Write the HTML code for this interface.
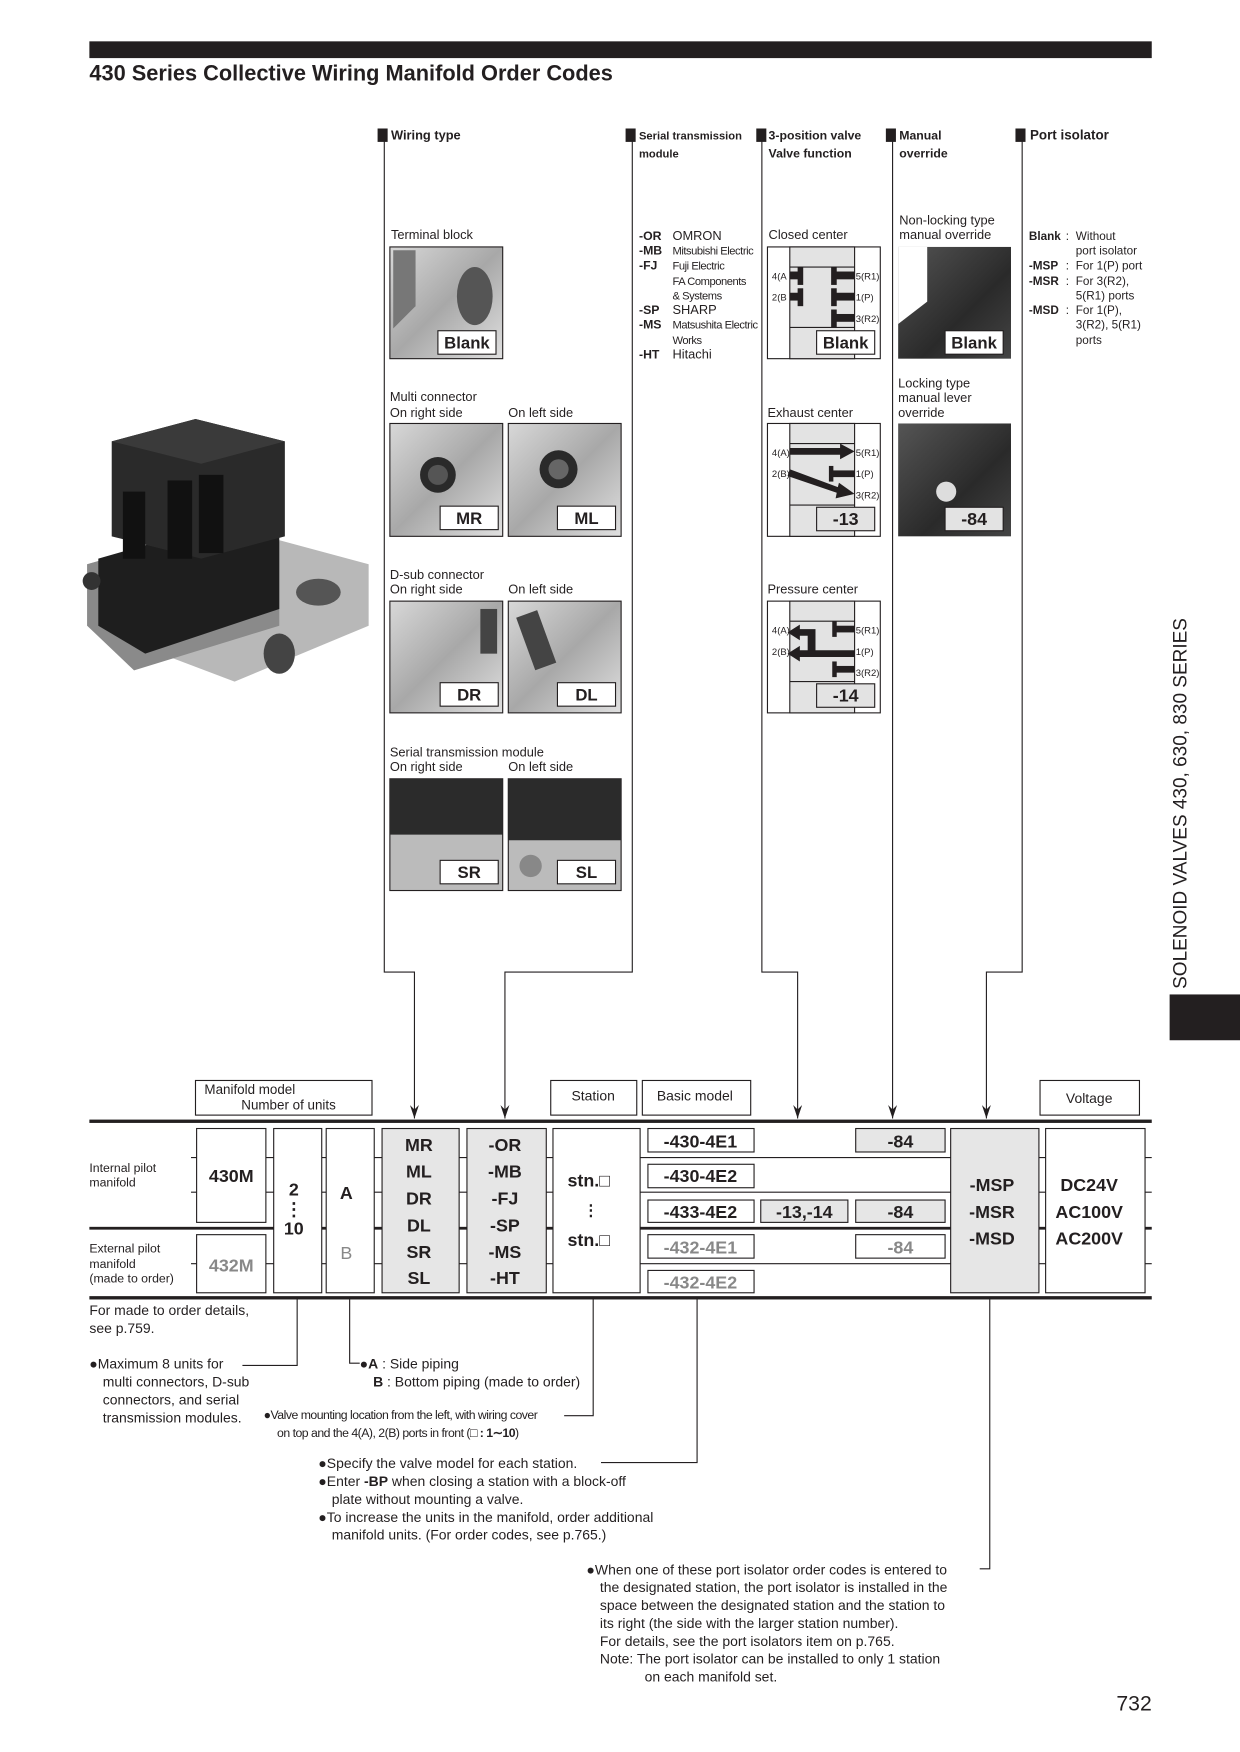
<!DOCTYPE html>
<html><head><meta charset="utf-8"><style>
html,body{margin:0;padding:0;background:#fff;}
svg{display:block;}
text{font-family:"Liberation Sans",sans-serif;fill:#231f20;}
.s{font-size:11.5px;}
.xs{font-size:10px;}
.h{font-size:11.5px;font-weight:bold;}
.c{font-size:16px;font-weight:bold;}
.g{fill:#888;}
.lbl{font-size:15px;font-weight:bold;}
</style></head><body>
<svg width="1240" height="1752" viewBox="0 0 1110 1568" preserveAspectRatio="none" xmlns="http://www.w3.org/2000/svg">
<defs>
<linearGradient id="lg" x1="0" y1="0" x2="1" y2="1"><stop offset="0" stop-color="#d8d8d8"/><stop offset="0.5" stop-color="#a8a8a8"/><stop offset="1" stop-color="#e0e0e0"/></linearGradient>
<linearGradient id="dk" x1="0" y1="0" x2="1" y2="1"><stop offset="0" stop-color="#555"/><stop offset="0.6" stop-color="#2a2a2a"/><stop offset="1" stop-color="#444"/></linearGradient>
<marker id="ar" markerWidth="12" markerHeight="8" refX="12" refY="4" orient="auto" markerUnits="userSpaceOnUse"><path d="M0,0 L12,4 L0,8 L4,4 Z" fill="#231f20"/></marker>
</defs>
<!-- header -->
<rect x="80" y="37" width="951" height="15" fill="#231f20"/>
<text x="80" y="72" style="font-size:19.5px;font-weight:bold">430 Series Collective Wiring Manifold Order Codes</text>

<!-- section headers -->
<g>
<rect x="338" y="115" width="9" height="12" fill="#231f20"/><text x="350" y="125" class="h">Wiring type</text>
<rect x="560" y="115" width="9" height="12" fill="#231f20"/><text x="572" y="125" class="xs" style="font-weight:bold">Serial transmission</text><text x="572" y="141" class="xs" style="font-weight:bold">module</text>
<rect x="677" y="115" width="9" height="12" fill="#231f20"/><text x="688" y="125" class="xs" style="font-weight:bold;font-size:11px">3-position valve</text><text x="688" y="141" class="xs" style="font-weight:bold;font-size:11px">Valve function</text>
<rect x="793" y="115" width="9" height="12" fill="#231f20"/><text x="805" y="125" class="xs" style="font-weight:bold;font-size:11px">Manual</text><text x="805" y="141" class="xs" style="font-weight:bold;font-size:11px">override</text>
<rect x="909" y="115" width="9" height="12" fill="#231f20"/><text x="922" y="125" class="h" style="font-size:12px">Port isolator</text>
</g>
<!-- connector lines -->
<g fill="none" stroke="#231f20" stroke-width="1">
<path d="M344,126 V870 H371 V1001" marker-end="url(#ar)"/>
<path d="M566,126 V870 H452 V1001" marker-end="url(#ar)"/>
<path d="M682,126 V870 H714 V1001" marker-end="url(#ar)"/>
<path d="M799,126 V1001" marker-end="url(#ar)"/>
<path d="M915,126 V870 H883 V1001" marker-end="url(#ar)"/>
</g>

<!-- wiring type labels -->
<text x="350" y="214" class="s">Terminal block</text>
<text x="349" y="359" class="s">Multi connector</text>
<text x="349" y="373" class="s">On right side</text><text x="455" y="373" class="s">On left side</text>
<text x="349" y="518" class="s">D-sub connector</text>
<text x="349" y="531" class="s">On right side</text><text x="455" y="531" class="s">On left side</text>
<text x="349" y="677" class="s">Serial transmission module</text>
<text x="349" y="690" class="s">On right side</text><text x="455" y="690" class="s">On left side</text>

<!-- photos -->
<g stroke="#231f20" stroke-width="1">
<rect x="349" y="221" width="101" height="100" fill="url(#lg)"/>
<rect x="349" y="379" width="101" height="101" fill="url(#lg)"/>
<rect x="455" y="379" width="101" height="101" fill="url(#lg)"/>
<rect x="349" y="538" width="101" height="100" fill="url(#lg)"/>
<rect x="455" y="538" width="101" height="100" fill="url(#lg)"/>
<rect x="349" y="697" width="101" height="100" fill="#bbb"/>
<rect x="455" y="697" width="101" height="100" fill="#bbb"/>
</g>
<g fill="#333">
<path d="M352,224 h20 v50 l-20,20z" fill="#777"/>
<ellipse cx="425" cy="265" rx="16" ry="26" fill="#555"/>
<circle cx="392" cy="425" r="16" fill="#2a2a2a"/><circle cx="392" cy="425" r="9" fill="#555"/>
<circle cx="500" cy="420" r="17" fill="#2a2a2a"/><circle cx="500" cy="420" r="9" fill="#666"/>
<rect x="430" y="545" width="15" height="40" fill="#444"/>
<rect x="470" y="548" width="20" height="50" fill="#444" transform="rotate(-20 480 573)"/>
<path d="M349,697 h101 v50 h-101z" fill="#2b2b2b"/>
<path d="M455,697 h101 v55 h-101z" fill="#2b2b2b"/>
<circle cx="475" cy="775" r="10" fill="#888"/>
</g>
<g stroke="#231f20" stroke-width="1" fill="#fff">
<rect x="392" y="296" width="52" height="21"/>
<rect x="394" y="453" width="52" height="21"/><rect x="499" y="453" width="52" height="21"/>
<rect x="394" y="611" width="52" height="21"/><rect x="499" y="611" width="52" height="21"/>
<rect x="394" y="770" width="52" height="21"/><rect x="499" y="770" width="52" height="21"/>
</g>
<g class="lbl" text-anchor="middle">
<text x="418" y="312" class="lbl">Blank</text>
<text x="420" y="469" class="lbl">MR</text><text x="525" y="469" class="lbl">ML</text>
<text x="420" y="627" class="lbl">DR</text><text x="525" y="627" class="lbl">DL</text>
<text x="420" y="786" class="lbl">SR</text><text x="525" y="786" class="lbl">SL</text>
</g>

<!-- serial list -->
<g class="xs">
<text x="572" y="215" style="font-weight:bold;font-size:11px">-OR</text><text x="602" y="215" class="s">OMRON</text>
<text x="572" y="228" style="font-weight:bold;font-size:11px">-MB</text><text x="602" y="228" style="font-size:10px;letter-spacing:-0.4px">Mitsubishi Electric</text>
<text x="572" y="241" style="font-weight:bold;font-size:11px">-FJ</text><text x="602" y="241" style="font-size:10px;letter-spacing:-0.4px">Fuji Electric</text>
<text x="602" y="255" style="font-size:10px;letter-spacing:-0.4px">FA Components</text>
<text x="602" y="268" style="font-size:10px;letter-spacing:-0.4px">&amp; Systems</text>
<text x="572" y="281" style="font-weight:bold;font-size:11px">-SP</text><text x="602" y="281" class="s">SHARP</text>
<text x="572" y="294" style="font-weight:bold;font-size:11px">-MS</text><text x="602" y="294" style="font-size:10px;letter-spacing:-0.4px">Matsushita Electric</text>
<text x="602" y="308" style="font-size:10px;letter-spacing:-0.4px">Works</text>
<text x="572" y="321" style="font-weight:bold;font-size:11px">-HT</text><text x="602" y="321" class="s">Hitachi</text>
</g>

<!-- valve symbols -->
<text x="688" y="214" class="s">Closed center</text>
<text x="687" y="373" class="s">Exhaust center</text>
<text x="687" y="531" class="s">Pressure center</text>
<g stroke="#231f20" stroke-width="1">
<rect x="687" y="221" width="101" height="100" fill="#fff"/><rect x="707" y="221" width="58" height="100" fill="#e3e3e3"/>
<line x1="707" y1="239" x2="765" y2="239"/><line x1="707" y1="293" x2="765" y2="293"/>
<rect x="687" y="379" width="101" height="101" fill="#fff"/><rect x="707" y="379" width="58" height="101" fill="#e3e3e3"/>
<line x1="707" y1="397" x2="765" y2="397"/><line x1="707" y1="452" x2="765" y2="452"/>
<rect x="687" y="538" width="101" height="100" fill="#fff"/><rect x="707" y="538" width="58" height="100" fill="#e3e3e3"/>
<line x1="707" y1="556" x2="765" y2="556"/><line x1="707" y1="610" x2="765" y2="610"/>
</g>
<g fill="#231f20">
<!-- closed center -->
<rect x="707" y="243" width="9" height="7"/><rect x="714" y="239" width="5" height="16"/>
<rect x="707" y="262" width="9" height="7"/><rect x="714" y="258" width="5" height="16"/>
<rect x="744" y="239" width="5" height="16"/><rect x="747" y="243" width="18" height="7"/>
<rect x="744" y="258" width="5" height="16"/><rect x="747" y="262" width="18" height="7"/>
<rect x="744" y="277" width="5" height="16"/><rect x="747" y="281" width="18" height="7"/>
<!-- exhaust -->
<path d="M707,401 h45 v-4 l13,7 l-13,7 v-4 h-45z"/>
<rect x="742" y="417" width="4" height="14"/><rect x="744" y="421" width="21" height="6"/>
<path d="M707,420 L750,436 L751,432 L765,442 L748,446 L749,441 L705,426z"/>
<!-- pressure -->
<path d="M765,582 H716 V578 L705,585 L716,592 V588 H765z"/>
<path d="M730,563 H716 V559 L705,566 L716,573 V569 H723 V585 H730z"/>
<rect x="745" y="556" width="4" height="14"/><rect x="747" y="560" width="18" height="6"/>
<rect x="745" y="592" width="4" height="14"/><rect x="747" y="596" width="18" height="6"/>
</g>
<g class="xs" style="font-size:8.5px">
<text x="691" y="250">4(A</text><text x="691" y="269">2(B</text>
<text x="766" y="250">5(R1)</text><text x="766" y="269">1(P)</text><text x="766" y="288">3(R2)</text>
<text x="691" y="408">4(A)</text><text x="691" y="427">2(B)</text>
<text x="766" y="408">5(R1)</text><text x="766" y="427">1(P)</text><text x="766" y="446">3(R2)</text>
<text x="691" y="567">4(A)</text><text x="691" y="586">2(B)</text>
<text x="766" y="567">5(R1)</text><text x="766" y="586">1(P)</text><text x="766" y="605">3(R2)</text>
</g>
<g stroke="#231f20" stroke-width="1">
<rect x="731" y="296" width="52" height="21" fill="#fff"/>
<rect x="731" y="454" width="52" height="21" fill="#e3e3e3"/>
<rect x="731" y="612" width="52" height="21" fill="#e3e3e3"/>
</g>
<text x="757" y="312" text-anchor="middle" class="lbl">Blank</text>
<text x="757" y="470" text-anchor="middle" class="lbl" style="font-size:16px">-13</text>
<text x="757" y="628" text-anchor="middle" class="lbl" style="font-size:16px">-14</text>

<!-- manual override -->
<text x="805" y="201" class="s">Non-locking type</text><text x="805" y="214" class="s">manual override</text>
<text x="804" y="347" class="s">Locking type</text><text x="804" y="360" class="s">manual lever</text><text x="804" y="373" class="s">override</text>
<rect x="804" y="221" width="101" height="100" fill="url(#dk)"/>
<path d="M804,290 L830,270 L830,221 L804,221z" fill="#fff"/>
<rect x="804" y="379" width="101" height="101" fill="url(#dk)"/>
<circle cx="847" cy="440" r="9" fill="#ddd"/>
<rect x="846" y="296" width="52" height="21" fill="#fff" stroke="#231f20"/>
<rect x="846" y="454" width="52" height="21" fill="#e3e3e3" stroke="#231f20"/>
<text x="872" y="312" text-anchor="middle" class="lbl">Blank</text>
<text x="872" y="470" text-anchor="middle" class="lbl" style="font-size:16px">-84</text>

<!-- port isolator -->
<g style="font-size:10.5px">
<text x="921" y="215" style="font-weight:bold">Blank</text><text x="954" y="215">:</text><text x="963" y="215">Without</text>
<text x="963" y="228">port isolator</text>
<text x="921" y="241" style="font-weight:bold">-MSP</text><text x="954" y="241">:</text><text x="963" y="241">For 1(P) port</text>
<text x="921" y="255" style="font-weight:bold">-MSR</text><text x="954" y="255">:</text><text x="963" y="255">For 3(R2),</text>
<text x="963" y="268">5(R1) ports</text>
<text x="921" y="281" style="font-weight:bold">-MSD</text><text x="954" y="281">:</text><text x="963" y="281">For 1(P),</text>
<text x="963" y="294">3(R2), 5(R1)</text>
<text x="963" y="308">ports</text>
</g>

<!-- product photo -->
<g>
<path d="M78,505 L200,470 L330,505 L330,560 L210,610 L78,560z" fill="#b8b8b8"/>
<path d="M78,505 L200,470 L250,485 L250,560 L120,600 L78,560z" fill="#8a8a8a"/>
<path d="M88,500 L210,465 L250,480 L250,545 L130,585 L88,560z" fill="#1e1e1e"/>
<path d="M100,395 L175,375 L255,395 L255,480 L180,500 L100,480z" fill="#2a2a2a"/>
<path d="M100,395 L175,375 L255,395 L180,415z" fill="#3a3a3a"/>
<rect x="150" y="430" width="22" height="70" fill="#111"/>
<rect x="178" y="425" width="22" height="70" fill="#111"/>
<rect x="110" y="440" width="20" height="60" fill="#111"/>
<ellipse cx="285" cy="530" rx="20" ry="12" fill="#555"/>
<ellipse cx="250" cy="585" rx="14" ry="18" fill="#444"/>
<circle cx="82" cy="520" r="8" fill="#333"/>
</g>

<!-- side tab -->
<text transform="translate(1062,885) rotate(-90)" style="font-size:17px">SOLENOID VALVES 430, 630, 830 SERIES</text>
<rect x="1047" y="890" width="63" height="41" fill="#231f20"/>

<!-- table headers -->
<g stroke="#231f20" stroke-width="1" fill="#fff">
<rect x="175" y="967" width="158" height="31"/>
<rect x="493" y="967" width="77" height="31"/>
<rect x="575" y="967" width="97" height="31"/>
<rect x="931" y="967" width="89" height="31"/>
</g>
<text x="183" y="979" class="s" style="font-size:12px">Manifold model</text>
<text x="216" y="993" class="s" style="font-size:12px">Number of units</text>
<text x="531" y="985" text-anchor="middle" style="font-size:12.5px">Station</text>
<text x="588" y="985" style="font-size:12.5px">Basic model</text>
<text x="975" y="987" text-anchor="middle" style="font-size:12.5px">Voltage</text>

<!-- table lines -->
<rect x="80" y="1002" width="951" height="3" fill="#231f20"/>
<rect x="80" y="1098" width="951" height="2.5" fill="#231f20"/>
<rect x="80" y="1160" width="951" height="3" fill="#231f20"/>
<g stroke="#231f20" stroke-width="1">
<line x1="171" y1="1036" x2="1031" y2="1036"/>
<line x1="171" y1="1067" x2="1031" y2="1067"/>
<line x1="171" y1="1131" x2="1031" y2="1131"/>
</g>
<g stroke="#231f20" stroke-width="1">
<rect x="176" y="1010" width="62" height="84" fill="#fff"/>
<rect x="176" y="1105" width="62" height="52" fill="#fff"/>
<rect x="245" y="1010" width="43" height="147" fill="#fff"/>
<rect x="292" y="1010" width="43" height="147" fill="#fff"/>
<rect x="342" y="1010" width="69" height="147" fill="#e6e6e6"/>
<rect x="418" y="1010" width="71" height="147" fill="#e6e6e6"/>
<rect x="495" y="1010" width="78" height="147" fill="#fff"/>
<rect x="580" y="1010" width="95" height="21" fill="#fff"/>
<rect x="580" y="1042" width="95" height="21" fill="#fff"/>
<rect x="580" y="1074" width="95" height="20" fill="#fff"/>
<rect x="580" y="1105" width="95" height="21" fill="#fff"/>
<rect x="580" y="1137" width="95" height="20" fill="#fff"/>
<rect x="681" y="1074" width="78" height="20" fill="#e6e6e6"/>
<rect x="766" y="1010" width="80" height="21" fill="#e6e6e6"/>
<rect x="766" y="1074" width="80" height="20" fill="#e6e6e6"/>
<rect x="766" y="1105" width="80" height="21" fill="#fff"/>
<rect x="851" y="1010" width="79" height="147" fill="#e6e6e6"/>
<rect x="936" y="1010" width="89" height="147" fill="#fff"/>
</g>
<g style="font-size:11px">
<text x="80" y="1049">Internal pilot</text><text x="80" y="1062">manifold</text>
<text x="80" y="1121">External pilot</text><text x="80" y="1135">manifold</text><text x="80" y="1148">(made to order)</text>
</g>
<g class="c" text-anchor="middle">
<text x="207" y="1058" class="c">430M</text>
<text x="207" y="1138" class="c g" style="fill:#888">432M</text>
<text x="263" y="1070" class="c">2</text>
<text x="263" y="1088" class="c">⋮</text>
<text x="263" y="1105" class="c">10</text>
<text x="310" y="1073" class="c">A</text>
<text x="310" y="1127" class="c" style="fill:#888;font-weight:normal">B</text>
<text x="375" y="1030" class="c">MR</text><text x="375" y="1054" class="c">ML</text><text x="375" y="1078" class="c">DR</text><text x="375" y="1102" class="c">DL</text><text x="375" y="1126" class="c">SR</text><text x="375" y="1149" class="c">SL</text>
<text x="452" y="1030" class="c">-OR</text><text x="452" y="1054" class="c">-MB</text><text x="452" y="1078" class="c">-FJ</text><text x="452" y="1102" class="c">-SP</text><text x="452" y="1126" class="c">-MS</text><text x="452" y="1149" class="c">-HT</text>
<text x="527" y="1062" class="c">stn.□</text>
<text x="529" y="1088" class="c" style="font-size:14px">⋮</text>
<text x="527" y="1115" class="c">stn.□</text>
<text x="627" y="1027" class="c">-430-4E1</text>
<text x="627" y="1058" class="c">-430-4E2</text>
<text x="627" y="1090" class="c">-433-4E2</text>
<text x="627" y="1122" class="c" style="fill:#888">-432-4E1</text>
<text x="627" y="1153" class="c" style="fill:#888">-432-4E2</text>
<text x="720" y="1090" class="c">-13,-14</text>
<text x="806" y="1027" class="c">-84</text>
<text x="806" y="1090" class="c">-84</text>
<text x="806" y="1122" class="c" style="fill:#888">-84</text>
<text x="888" y="1066" class="c">-MSP</text><text x="888" y="1090" class="c">-MSR</text><text x="888" y="1114" class="c">-MSD</text>
<text x="975" y="1066" class="c">DC24V</text><text x="975" y="1090" class="c">AC100V</text><text x="975" y="1114" class="c">AC200V</text>
</g>

<!-- notes -->
<g fill="none" stroke="#231f20" stroke-width="1">
<path d="M266,1163 V1222 H217"/>
<path d="M313,1163 V1220 H322"/>
<path d="M531,1163 V1267 H505"/>
<path d="M624,1163 V1309 H538"/>
<path d="M886,1163 V1404 H877"/>
</g>
<g style="font-size:12.5px">
<text x="80" y="1177">For made to order details,</text>
<text x="80" y="1193">see p.759.</text>
<text x="80" y="1225">●Maximum 8 units for</text>
<text x="92" y="1241">multi connectors, D-sub</text>
<text x="92" y="1257">connectors, and serial</text>
<text x="92" y="1273">transmission modules.</text>
<text x="322" y="1225">●<tspan font-weight="bold">A</tspan> : Side piping</text>
<text x="334" y="1241"><tspan font-weight="bold">B</tspan> : Bottom piping (made to order)</text>
<text x="236" y="1270" style="font-size:11px;letter-spacing:-0.45px">●Valve mounting location from the left, with wiring cover</text>
<text x="248" y="1286" style="font-size:11px;letter-spacing:-0.45px">on top and the 4(A), 2(B) ports in front (□ <tspan font-weight="bold">: 1∼10</tspan>)</text>
<text x="285" y="1314">●Specify the valve model for each station.</text>
<text x="285" y="1330">●Enter <tspan font-weight="bold">-BP</tspan> when closing a station with a block-off</text>
<text x="297" y="1346">plate without mounting a valve.</text>
<text x="285" y="1362">●To increase the units in the manifold, order additional</text>
<text x="297" y="1378">manifold units. (For order codes, see p.765.)</text>
<text x="525" y="1409">●When one of these port isolator order codes is entered to</text>
<text x="537" y="1425">the designated station, the port isolator is installed in the</text>
<text x="537" y="1441">space between the designated station and the station to</text>
<text x="537" y="1457">its right (the side with the larger station number).</text>
<text x="537" y="1473">For details, see the port isolators item on p.765.</text>
<text x="537" y="1489">Note:  The port isolator can be installed to only 1 station</text>
<text x="577" y="1505">on each manifold set.</text>
</g>
<text x="1031" y="1531" text-anchor="end" style="font-size:19px">732</text>
</svg>
</body></html>
